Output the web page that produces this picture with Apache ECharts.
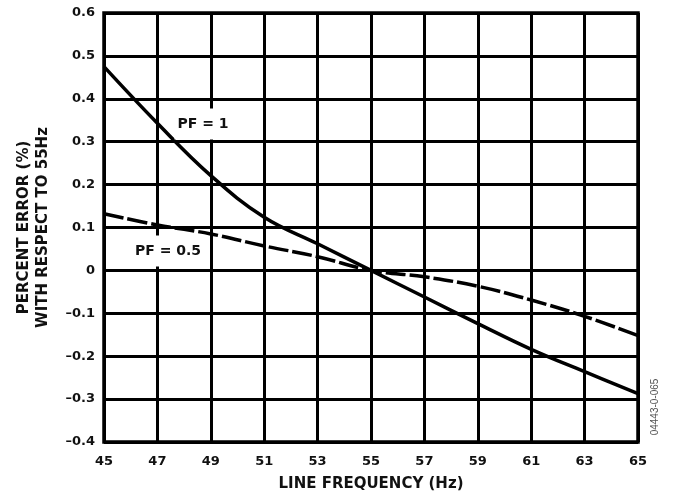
<!DOCTYPE html>
<html>
<head>
<meta charset="utf-8">
<title>Percent Error vs Line Frequency</title>
<script src="https://cdn.jsdelivr.net/npm/echarts@6/dist/echarts.min.js"></script>
<style>
  html, body { margin: 0; padding: 0; background: #fff; }
  #chart { width: 675px; height: 499px; }
</style>
</head>
<body>
<div id="chart"></div>
<script>
// Line frequency (Hz) at which each error value is read
const frequency = [45, 47, 49, 51, 53, 55, 57, 59, 61, 63, 65];

// Percent error with respect to 55 Hz
const errPF1   = [0.475, 0.343, 0.221, 0.124, 0.062, 0, -0.062, -0.124, -0.184, -0.236, -0.287];
const errPF05  = [0.132, 0.106, 0.085, 0.057, 0.032, 0, -0.015, -0.037, -0.069, -0.107, -0.152];

// Axis ticks
const xTicks = [45, 47, 49, 51, 53, 55, 57, 59, 61, 63, 65];
const yTicks = [-0.4, -0.3, -0.2, -0.1, 0, 0.1, 0.2, 0.3, 0.4, 0.5, 0.6];

const FONT = 'DejaVu Sans';

function pairs(xs, ys) { return xs.map((x, i) => [x, ys[i]]); }

function yLabel(v) {
  if (Math.abs(v) < 1e-9) return '0';
  return (v < 0 ? '\u2013' : '') + Math.abs(v).toFixed(1);
}

const chart = echarts.init(document.getElementById('chart'), null, { renderer: 'canvas' });

chart.setOption({
  backgroundColor: '#ffffff',
  animation: false,
  grid: {
    left: 104, right: 37, top: 13, bottom: 57,
    containLabel: false,
    outerBoundsMode: 'none',
    show: true,
    borderColor: '#000',
    borderWidth: 3.5,
    backgroundColor: 'transparent'
  },
  xAxis: {
    type: 'value',
    min: xTicks[0],
    max: xTicks[xTicks.length - 1],
    interval: 2,
    name: 'LINE FREQUENCY (Hz)',
    nameLocation: 'middle',
    nameGap: 35,
    nameTextStyle: { fontFamily: FONT, fontWeight: 'bold', fontSize: 15, color: '#111' },
    axisLine: { show: false },
    axisTick: { show: false },
    axisLabel: {
      margin: 13,
      fontFamily: FONT, fontWeight: 'bold', fontSize: 13, color: '#111',
      formatter: v => String(v)
    },
    splitLine: { show: true, lineStyle: { color: '#000', width: 3 } }
  },
  yAxis: {
    type: 'value',
    min: yTicks[0],
    max: yTicks[yTicks.length - 1],
    interval: 0.1,
    name: 'PERCENT ERROR (%)\nWITH RESPECT TO 55Hz',
    nameLocation: 'middle',
    nameRotate: 90,
    nameGap: 51,
    nameTextStyle: { fontFamily: FONT, fontWeight: 'bold', fontSize: 15, lineHeight: 19, color: '#111' },
    axisLine: { show: false },
    axisTick: { show: false },
    axisLabel: {
      margin: 9,
      fontFamily: FONT, fontWeight: 'bold', fontSize: 13, color: '#111',
      formatter: yLabel
    },
    splitLine: { show: true, lineStyle: { color: '#000', width: 3 } }
  },
  series: [
    {
      name: 'PF = 1',
      type: 'line',
      data: pairs(frequency, errPF1),
      smooth: 0.4,
      showSymbol: false,
      symbol: 'none',
      z: 5,
      lineStyle: { color: '#000', width: 3.5, type: 'solid' }
    },
    {
      name: 'PF = 0.5',
      type: 'line',
      data: pairs(frequency, errPF05),
      smooth: 0.4,
      showSymbol: false,
      symbol: 'none',
      z: 5,
      lineStyle: { color: '#000', width: 3.5, type: [20, 4] }
    }
  ],
  graphic: [
    {
      type: 'text', z: 100,
      x: 203, y: 124,
      style: {
        text: 'PF = 1',
        fontFamily: FONT, fontWeight: 'bold', fontSize: 14,
        fill: '#111',
        align: 'center', verticalAlign: 'middle',
        backgroundColor: '#fff',
        padding: [9, 3, 8, 3]
      }
    },
    {
      type: 'text', z: 100,
      x: 168, y: 251,
      style: {
        text: 'PF = 0.5',
        fontFamily: FONT, fontWeight: 'bold', fontSize: 14,
        fill: '#111',
        align: 'center', verticalAlign: 'middle',
        backgroundColor: '#fff',
        padding: [9, 3, 8, 3]
      }
    },
    {
      type: 'text', z: 100,
      x: 655, y: 407,
      rotation: Math.PI / 2,
      style: {
        text: '04443-0-065',
        fontFamily: 'Liberation Sans', fontSize: 10,
        fill: '#555',
        align: 'center', verticalAlign: 'middle'
      }
    }
  ]
});
</script>
</body>
</html>
